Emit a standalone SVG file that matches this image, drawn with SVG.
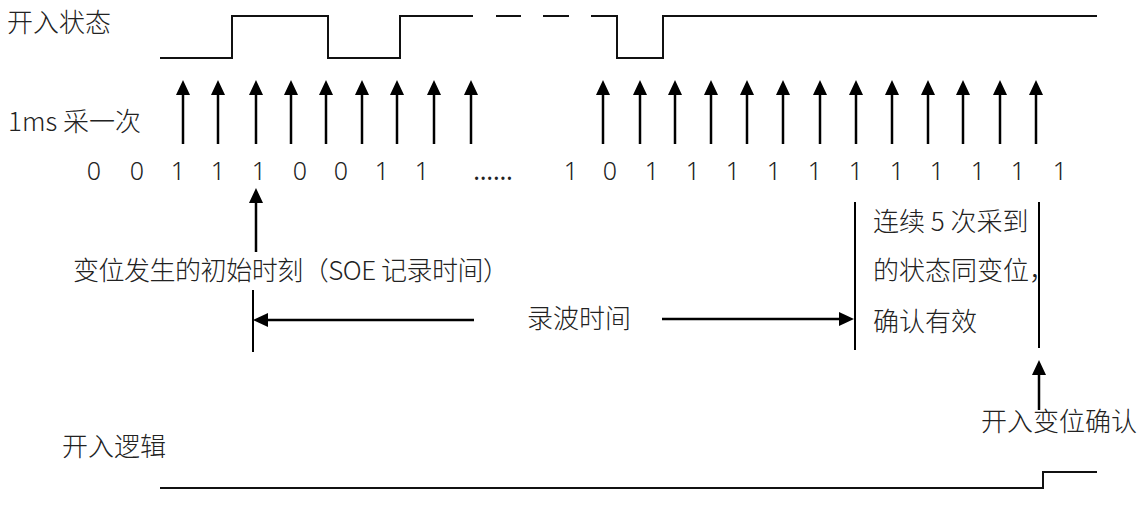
<svg xmlns="http://www.w3.org/2000/svg" width="1143" height="515" viewBox="0 0 1143 515">
  <style>
    .t { font-family: "Noto Sans CJK SC", "Noto Sans", sans-serif; font-size: 26px; font-weight: 300; fill: #222; }
    .d { font-family: "Noto Sans", "Noto Sans CJK SC", sans-serif; font-size: 25px; font-weight: 300; fill: #222; text-anchor: middle; }
    .w { fill: none; stroke: #111; stroke-width: 2; }
    .a { fill: none; stroke: #000; stroke-width: 2.5; marker-end: url(#ah); }
    .v { fill: none; stroke: #000; stroke-width: 2; }
  </style>
  <defs>
    <marker id="ah" viewBox="0 0 15 14" refX="1" refY="7" markerWidth="15" markerHeight="14" markerUnits="userSpaceOnUse" orient="auto">
      <path d="M0,0 L15,7 L0,14 z" fill="#000"/>
    </marker>
  </defs>
  <rect width="1143" height="515" fill="#fff"/>

  <g id="input-state">
    <text class="t" x="7" y="32">开入状态</text>
    <path class="w" d="M160,58 H232 V16 H328 V58 H400 V16 H473"/>
    <path class="w" d="M496,16 H521 M543,16 H569 M591,16 H617 V58 H663 V16 H1097"/>
  </g>

  <g id="sampling-label">
    <text class="t" x="8" y="131">1ms 采一次</text>
  </g>

  <g id="sample-values">
    <text class="d" x="94 137 178 218 259 300 341 382 422" y="180">001110011</text>
    <text class="d" x="493" y="180" style="font-weight:400">……</text>
    <text class="d" x="571 610 652 693 733 774 815 856 897 937 978 1018 1060" y="180">1011111111111</text>
  </g>

  <g id="soe-label">
    <text class="t" x="73" y="280" textLength="436" lengthAdjust="spacing">变位发生的初始时刻（SOE 记录时间）</text>
  </g>

  <g id="record-label">
    <text class="t" x="527" y="328">录波时间</text>
  </g>

  <g id="confirm-note">
    <text class="t" x="873" y="231">连续 5 次采到</text>
    <text class="t" x="873" y="280">的状态同变位，</text>
    <text class="t" x="873" y="331">确认有效</text>
  </g>

  <g id="confirm-label">
    <text class="t" x="981" y="431">开入变位确认</text>
  </g>

  <g id="input-logic">
    <text class="t" x="62" y="456">开入逻辑</text>
    <path class="w" d="M160,488 H1043 V472 H1097"/>
  </g>

  <g id="connectors">
    <line class="a" x1="183" y1="144" x2="183" y2="94"/>
    <line class="a" x1="218" y1="144" x2="218" y2="94"/>
    <line class="a" x1="256" y1="144" x2="256" y2="94"/>
    <line class="a" x1="291" y1="144" x2="291" y2="94"/>
    <line class="a" x1="326" y1="144" x2="326" y2="94"/>
    <line class="a" x1="362" y1="144" x2="362" y2="94"/>
    <line class="a" x1="397" y1="144" x2="397" y2="94"/>
    <line class="a" x1="434" y1="144" x2="434" y2="94"/>
    <line class="a" x1="471" y1="144" x2="471" y2="94"/>

    <line class="a" x1="603" y1="144" x2="603" y2="94"/>
    <line class="a" x1="640" y1="144" x2="640" y2="94"/>
    <line class="a" x1="675" y1="144" x2="675" y2="94"/>
    <line class="a" x1="711" y1="144" x2="711" y2="94"/>
    <line class="a" x1="747" y1="144" x2="747" y2="94"/>
    <line class="a" x1="783" y1="144" x2="783" y2="94"/>
    <line class="a" x1="820" y1="144" x2="820" y2="94"/>
    <line class="a" x1="856" y1="144" x2="856" y2="94"/>
    <line class="a" x1="892" y1="144" x2="892" y2="94"/>
    <line class="a" x1="928" y1="144" x2="928" y2="94"/>
    <line class="a" x1="963" y1="144" x2="963" y2="94"/>
    <line class="a" x1="1000" y1="144" x2="1000" y2="94"/>
    <line class="a" x1="1036" y1="144" x2="1036" y2="94"/>

    <line class="a" x1="256" y1="252" x2="256" y2="202"/>
    <line class="v" x1="253" y1="290" x2="253" y2="352"/>
    <line class="a" x1="474" y1="320" x2="267" y2="320"/>
    <line class="a" x1="662" y1="319" x2="840" y2="319"/>
    <line class="v" x1="855" y1="202" x2="855" y2="350"/>
    <line class="v" x1="1039" y1="202" x2="1039" y2="348"/>
    <line class="a" x1="1039" y1="410" x2="1039" y2="374"/>
  </g>
</svg>
